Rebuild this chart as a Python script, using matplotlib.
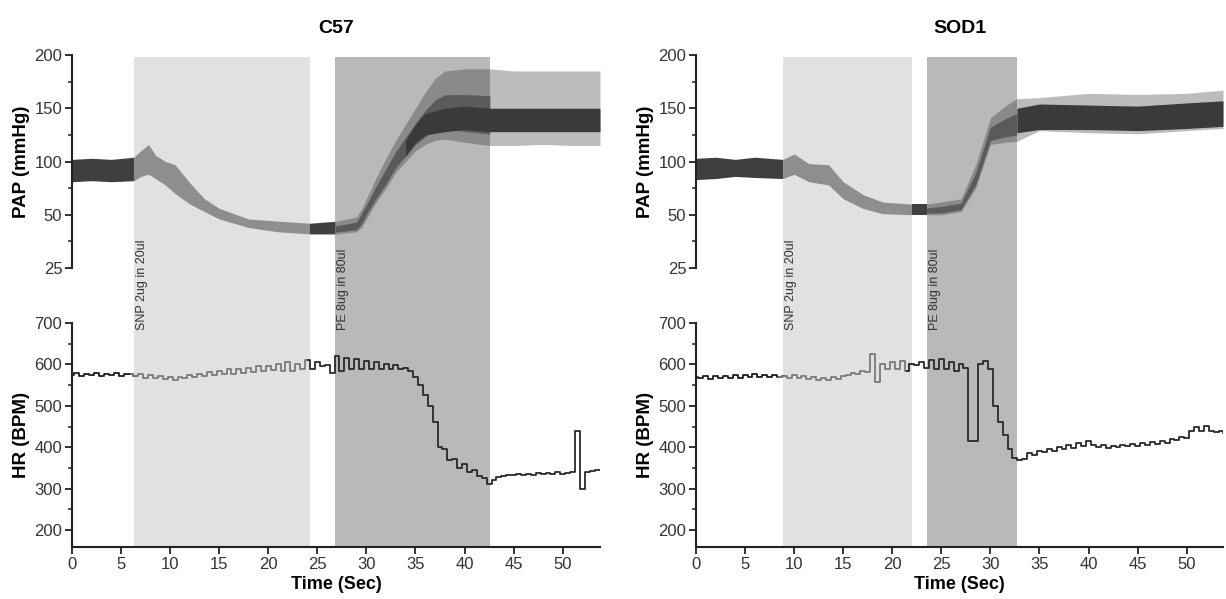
import numpy as np
import matplotlib
matplotlib.use('Agg')
import matplotlib.pyplot as plt

plt.rcParams['font.family'] = ['Liberation Sans', 'DejaVu Sans']

# ---- data ----
panels = ['C57', 'SOD1']

# shaded drug windows (sec)
snp_span = {'C57': (6.3, 24.2), 'SOD1': (8.85, 22.0)}
pe_span = {'C57': (26.8, 42.6), 'SOD1': (23.5, 32.7)}

# PAP envelope (upper / lower of the pulsatile band)
c57_pap_t = [0, 2, 4, 6.3, 7, 7.8, 8.5, 9.5, 10.5, 12, 13.5, 15, 16.5, 18, 21, 24.2, 27, 29, 29.5, 30,
             31, 32, 33, 34, 35, 36, 37, 38, 40, 42.6, 45, 48, 51, 53.8]
c57_pap_hi = [102, 103, 102, 104, 110, 116, 106, 100, 97, 80, 65, 56, 51, 48, 47, 46, 47, 49, 55, 65,
              85, 103, 120, 135, 150, 165, 178, 185, 187, 187, 185, 185, 185, 185]
c57_pap_lo = [81, 82, 81, 82, 86, 88, 84, 78, 70, 60, 53, 48, 46, 44, 42, 41, 41, 42, 44, 48,
              62, 75, 90, 100, 110, 116, 120, 121, 118, 115, 115, 116, 115, 115]
c57_core_t = [34, 35, 36, 38, 40, 42.6, 45, 48, 51, 53.8]
c57_core_hi = [120, 135, 145, 150, 152, 150, 150, 150, 150, 150]
c57_core_lo = [105, 118, 125, 128, 130, 128, 128, 128, 128, 128]

sod_pap_t = [0, 2, 4, 6, 8.85, 10, 11.5, 13.5, 15, 17, 19, 22, 23.5, 25, 27, 28.5, 30, 31.5, 32.7,
             35, 40, 45, 50, 53.7]
sod_pap_hi = [103, 104, 102, 104, 102, 107, 98, 97, 81, 69, 62, 60, 60, 62, 65, 97, 141, 152, 159,
              160, 164, 163, 164, 167]
sod_pap_lo = [83, 84, 86, 85, 84, 88, 81, 78, 65, 56, 51, 50, 50, 50, 53, 75, 116, 118, 119,
              129, 127, 126, 129, 131]
sod_core_t = [32.7, 35, 40, 45, 50, 53.7]
sod_core_hi = [150, 154, 153, 152, 155, 157]
sod_core_lo = [127, 130, 130, 129, 131, 133]

# HR, one value every 0.5 s from 0 to 54 s
hr_t = np.arange(0, 54.25, 0.5)
c57_hr = [575, 580, 572, 578, 574, 580, 573, 577, 575, 579, 572, 578, 576,
          572, 576, 568, 574, 566, 572, 564, 570, 562, 570, 566, 574,
          570, 578, 572, 582, 574, 585, 576, 588, 578, 590, 580, 592, 582, 595, 584, 596,
          586, 600, 585, 605, 584, 602, 588, 610, 590, 605, 595, 598, 580, 620,
          585, 615, 588, 612, 590, 608, 590, 605, 588, 600, 590, 598, 588, 592,
          585, 570, 550, 525, 500, 460, 400, 395, 370, 372, 350, 360, 340, 345, 330, 325, 310, 322,
          328, 330, 334, 332, 336, 333, 335, 334, 337, 335, 338, 336, 340, 336, 338, 340,
          440, 298,
          340, 342, 344, 345]
sod_hr = [570, 566, 572, 565, 571, 566, 573, 567, 574, 568, 575, 569, 576, 570, 575, 569, 574, 570, 572,
          568, 574, 566, 572, 564, 570, 562, 568, 563, 570, 565, 572,
          575, 580, 578, 585, 582, 625,
          558,
          600, 590, 605, 588, 608, 585, 600,
          598, 605, 592, 610, 590, 612, 588, 605, 585, 600, 592,
          415, 415,
          600, 608,
          590, 500, 460, 430, 395, 375, 368,
          372, 385, 380, 392, 388, 395, 392, 400, 396, 405, 398, 410, 402, 415,
          405, 400, 406, 398, 404, 400, 406, 402, 408, 404, 410, 406, 412, 408, 414, 410,
          420, 418, 425, 422, 440, 448, 438, 452, 440, 436, 438, 435]

pap_data = {'C57': (c57_pap_t, c57_pap_hi, c57_pap_lo, c57_core_t, c57_core_hi, c57_core_lo),
            'SOD1': (sod_pap_t, sod_pap_hi, sod_pap_lo, sod_core_t, sod_core_hi, sod_core_lo)}
hr_data = {'C57': c57_hr, 'SOD1': sod_hr}
xmax = {'C57': 53.8, 'SOD1': 53.7}

# broken PAP axis: 25-50 takes as much room as 50-100
def fwd(y):
    y = np.asarray(y, dtype=float)
    return np.where(y >= 50, y, 2 * y - 50)

def inv(y):
    y = np.asarray(y, dtype=float)
    return np.where(y >= 50, y, (y + 50) / 2)

def piece(t, ys, a, b):
    # slice of the envelope between a and b, ends included
    t = np.asarray(t, dtype=float)
    ts = np.concatenate([[a], t[(t > a) & (t < b)], [b]])
    return ts, [np.interp(ts, t, y) for y in ys]

fig = plt.figure(figsize=(12.26, 5.99), dpi=100)

W = 1226; H = 599
lefts = [72 / W, 696 / W]
rights = [600 / W, 1223 / W]

def style(ax):
    for s in ['top', 'right']:
        ax.spines[s].set_visible(False)
    for s in ['left', 'bottom']:
        ax.spines[s].set_linewidth(1.5)
        ax.spines[s].set_color('#222222')
    ax.tick_params(which='major', length=5, width=1.3, color='#222222', labelsize=12,
                   labelcolor='#333333', pad=2)
    ax.tick_params(which='minor', length=3, width=1.1, color='#222222')

for i, name in enumerate(panels):
    x0 = lefts[i]
    w = rights[i] - x0
    xm = xmax[name]

    # background for the shaded windows, spanning both plots
    bg = fig.add_axes([x0, 1 - 547 / H, w, (547 - 57) / H])
    bg.set_xlim(0, xm)
    bg.set_ylim(0, 1)
    bg.axis('off')
    a, b = snp_span[name]
    bg.axvspan(a, b, color='#e1e1e1', lw=0)
    bg.text(a + 0.2, 0.443, 'SNP 2ug in 20ul', rotation=90, fontsize=9,
            va='bottom', ha='left', color='#333333')
    a, b = pe_span[name]
    bg.axvspan(a, b, color='#b9b9b9', lw=0)
    bg.text(a + 0.2, 0.443, 'PE 8ug in 80ul', rotation=90, fontsize=9,
            va='bottom', ha='left', color='#333333')

    # PAP
    ap = fig.add_axes([x0, 1 - 268 / H, w, (268 - 55) / H])
    ap.patch.set_alpha(0)
    ap.set_yscale('function', functions=(fwd, inv))
    t, hi, lo, ct, chi, clo = pap_data[name]
    s0, s1 = snp_span[name]
    p0, p1 = pe_span[name]
    for a, b, c in [(0, s0, '#3f3f3f'), (s0, s1, '#8e8e8e'), (s1, p0, '#3f3f3f')]:
        ts, (h, l) = piece(t, [hi, lo], a, b)
        ap.fill_between(ts, l, h, color=c, lw=0)
    ts, (h, l) = piece(t, [hi, lo], p0, p1)
    ap.fill_between(ts, l, h, color='#8a8a8a', lw=0)
    ap.fill_between(ts, l + (h - l) * 0.15, h - (h - l) * 0.35, color='#5a5a5a', lw=0)
    ts, (h, l) = piece(t, [hi, lo], p1, xm)
    ap.fill_between(ts, l, h, color='#bcbcbc', lw=0)
    ap.fill_between(ct, clo, chi, color='#3a3a3a', lw=0)
    ap.set_xlim(0, xm)
    ap.set_ylim(25, 200)
    ap.set_yticks([25, 50, 100, 150, 200])
    ap.set_yticks([37.5, 75, 125, 175], minor=True)
    ap.set_yticklabels(['25', '50', '100', '150', '200'])
    ap.set_xticks([])
    style(ap)
    ap.spines['bottom'].set_visible(False)
    ap.set_ylabel('PAP (mmHg)', fontsize=13.5, fontweight='bold', labelpad=3)
    ap.set_title(name, fontsize=14, fontweight='bold', pad=16)

    # HR
    ah = fig.add_axes([x0, 1 - 547 / H, w, (547 - 323) / H])
    ah.patch.set_alpha(0)
    hr = np.array(hr_data[name])
    for a, b, c in [(0, s0, '#1e1e1e'), (s0, s1, '#7a7a7a'), (s1, xm + 1, '#2a2a2a')]:
        m = (hr_t >= a - 0.5) & (hr_t <= b + 0.25)
        ah.plot(hr_t[m], hr[m], drawstyle='steps-mid', color=c, lw=1.3)
    ah.set_xlim(0, xm)
    ah.set_ylim(159, 700)
    ah.set_yticks([200, 300, 400, 500, 600, 700])
    ah.set_yticks([250, 350, 450, 550, 650], minor=True)
    ah.set_xticks(range(0, 55, 5))
    style(ah)
    ah.set_ylabel('HR (BPM)', fontsize=13.5, fontweight='bold', labelpad=3)
    ah.set_xlabel('Time (Sec)', fontsize=13, fontweight='bold', labelpad=3)

fig.savefig('out.png', dpi=100)
